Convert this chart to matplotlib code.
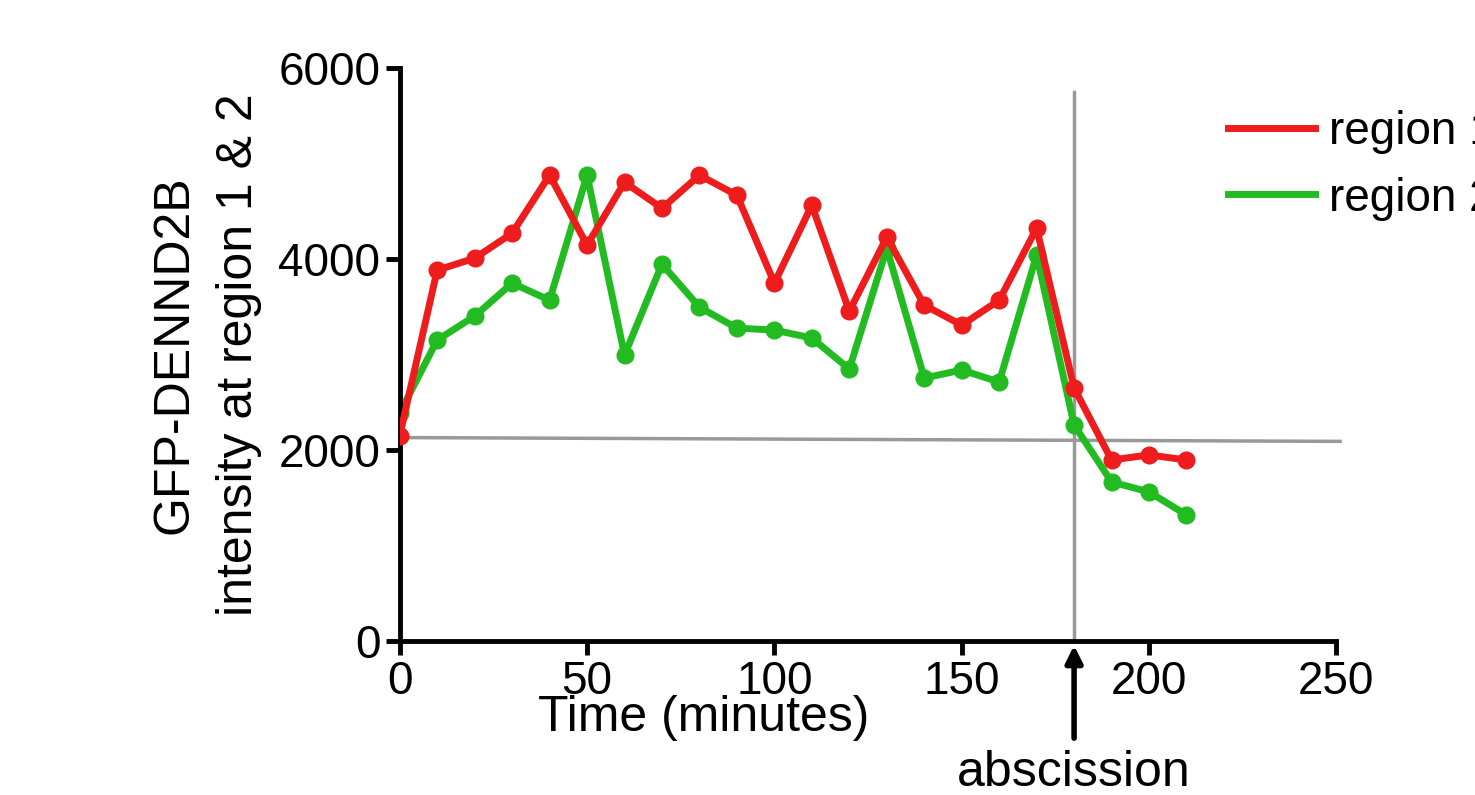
import matplotlib
matplotlib.use("Agg")
import matplotlib.pyplot as plt

time = list(range(0, 220, 10))
region1 = [2150, 3885, 4010, 4272, 4880, 4147, 4806, 4534, 4880, 4670, 3749, 4565, 3455,
           4230, 3518, 3309, 3570, 4325, 2650, 1895, 1948, 1895]
region2 = [2387, 3152, 3403, 3749, 3570, 4880, 2995, 3948, 3497, 3277, 3257, 3173, 2848,
           4115, 2754, 2838, 2712, 4042, 2262, 1665, 1560, 1319]
xticks = [0, 50, 100, 150, 200, 250]
yticks = [0, 2000, 4000, 6000]
baseline = 2110
abscission_t = 180

plt.rcParams["font.family"] = "Liberation Sans"
fig = plt.figure(figsize=(14.75, 7.95), dpi=100)
ax = fig.add_axes([0.271, 0.194, 0.635, 0.72])
ax.plot([0, 251], [baseline + 20, baseline - 20], color="#999999", lw=2.5, clip_on=False, zorder=1)
ax.plot([abscission_t, abscission_t], [0, 5750], color="#999999", lw=2.5, zorder=1)
ax.plot(time, region1, color="#ee1c1c", lw=5, marker="o", ms=12, label="region 1", zorder=3)
ax.plot(time, region2, color="#22bb22", lw=5, marker="o", ms=12, label="region 2", zorder=2)
ax.set_xlim(0, 250)
ax.set_ylim(0, 6000)
ax.set_xticks(xticks)
ax.set_yticks(yticks)
ax.tick_params(labelsize=33, width=3.5, length=10, pad=4)
for s in ["top", "right"]:
    ax.spines[s].set_visible(False)
for s in ["left", "bottom"]:
    ax.spines[s].set_linewidth(3.5)
ax.set_xlabel("Time (minutes)", fontsize=36, labelpad=-2)
ax.xaxis.set_label_coords(0.325, -0.095)
ax.set_ylabel("GFP-DENND2B\nintensity at region 1 & 2", fontsize=36, labelpad=12, linespacing=1.5)
ax.annotate("abscission", xy=(abscission_t, -50), xytext=(abscission_t, -1390),
            textcoords="data", ha="center", va="center", fontsize=36, annotation_clip=False)
ax.annotate("", xy=(abscission_t, -20), xytext=(abscission_t, -1050),
            arrowprops=dict(arrowstyle="-|>,head_width=0.5,head_length=1", color="black", lw=4),
            annotation_clip=False)
leg = ax.legend(loc="upper left", bbox_to_anchor=(0.84, 1.0), frameon=False, fontsize=33,
                handlelength=1.9, handletextpad=0.3, labelspacing=0.5)
for l in leg.get_lines():
    l.set_marker("")
fig.savefig("out.png", dpi=100)
